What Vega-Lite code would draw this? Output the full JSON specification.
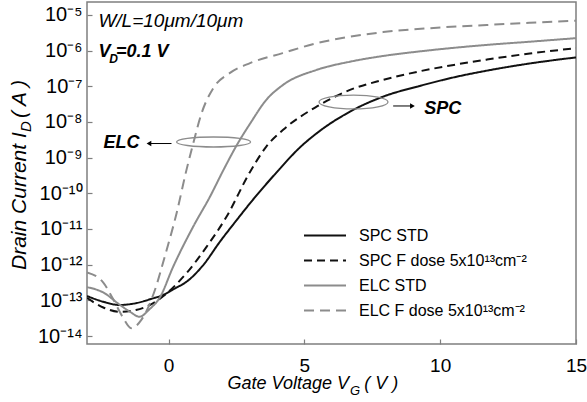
{
  "$schema": "https://vega.github.io/schema/vega-lite/v6.json",
  "width": 489,
  "height": 342,
  "autosize": {"type": "none"},
  "padding": {"left": 87, "top": 2, "right": 11, "bottom": 58},
  "background": "white",
  "config": {
    "view": {"stroke": "#7f7f7f", "strokeWidth": 1.5},
    "font": "Liberation Sans",
    "text": {"font": "Liberation Sans", "color": "#000"}
  },
  "datasets": {
    "curves": [
      {"series": "SPC STD", "x": -3, "y": 1.32e-13},
      {"series": "SPC STD", "x": -2.4, "y": 9.12e-14},
      {"series": "SPC STD", "x": -1.8, "y": 7.41e-14},
      {"series": "SPC STD", "x": -1.2, "y": 8.32e-14},
      {"series": "SPC STD", "x": -0.6, "y": 1.12e-13},
      {"series": "SPC STD", "x": -0.2, "y": 1.41e-13},
      {"series": "SPC STD", "x": 0.2, "y": 2.09e-13},
      {"series": "SPC STD", "x": 0.66, "y": 3.31e-13},
      {"series": "SPC STD", "x": 1.28, "y": 9.77e-13},
      {"series": "SPC STD", "x": 1.89, "y": 4.37e-12},
      {"series": "SPC STD", "x": 2.51, "y": 1.78e-11},
      {"series": "SPC STD", "x": 3.0, "y": 5.25e-11},
      {"series": "SPC STD", "x": 3.97, "y": 3.80e-10},
      {"series": "SPC STD", "x": 4.83, "y": 1.91e-9},
      {"series": "SPC STD", "x": 5.45, "y": 4.79e-9},
      {"series": "SPC STD", "x": 6.68, "y": 1.95e-8},
      {"series": "SPC STD", "x": 7.9, "y": 5.13e-8},
      {"series": "SPC STD", "x": 9.3, "y": 1.05e-7},
      {"series": "SPC STD", "x": 10.5, "y": 1.78e-7},
      {"series": "SPC STD", "x": 11.72, "y": 2.75e-7},
      {"series": "SPC STD", "x": 13.3, "y": 4.37e-7},
      {"series": "SPC STD", "x": 15, "y": 6.46e-7},

      {"series": "SPC F dose 5x10¹³cm⁻²", "x": -3, "y": 1.17e-13},
      {"series": "SPC F dose 5x10¹³cm⁻²", "x": -2.4, "y": 6.31e-14},
      {"series": "SPC F dose 5x10¹³cm⁻²", "x": -1.8, "y": 4.79e-14},
      {"series": "SPC F dose 5x10¹³cm⁻²", "x": -1.2, "y": 5.37e-14},
      {"series": "SPC F dose 5x10¹³cm⁻²", "x": -0.56, "y": 8.32e-14},
      {"series": "SPC F dose 5x10¹³cm⁻²", "x": -0.14, "y": 1.41e-13},
      {"series": "SPC F dose 5x10¹³cm⁻²", "x": 0.66, "y": 5.75e-13},
      {"series": "SPC F dose 5x10¹³cm⁻²", "x": 1.4, "y": 3.16e-12},
      {"series": "SPC F dose 5x10¹³cm⁻²", "x": 2.14, "y": 2.24e-11},
      {"series": "SPC F dose 5x10¹³cm⁻²", "x": 3.0, "y": 3.98e-10},
      {"series": "SPC F dose 5x10¹³cm⁻²", "x": 3.6, "y": 2.04e-9},
      {"series": "SPC F dose 5x10¹³cm⁻²", "x": 4.22, "y": 6.03e-9},
      {"series": "SPC F dose 5x10¹³cm⁻²", "x": 5.45, "y": 2.69e-8},
      {"series": "SPC F dose 5x10¹³cm⁻²", "x": 6.68, "y": 7.94e-8},
      {"series": "SPC F dose 5x10¹³cm⁻²", "x": 7.9, "y": 1.51e-7},
      {"series": "SPC F dose 5x10¹³cm⁻²", "x": 9.3, "y": 2.69e-7},
      {"series": "SPC F dose 5x10¹³cm⁻²", "x": 10.5, "y": 3.98e-7},
      {"series": "SPC F dose 5x10¹³cm⁻²", "x": 11.72, "y": 5.62e-7},
      {"series": "SPC F dose 5x10¹³cm⁻²", "x": 13.3, "y": 8.32e-7},
      {"series": "SPC F dose 5x10¹³cm⁻²", "x": 15, "y": 1.17e-6},

      {"series": "ELC STD", "x": -3, "y": 2.34e-13},
      {"series": "ELC STD", "x": -2.4, "y": 1.66e-13},
      {"series": "ELC STD", "x": -1.8, "y": 7.59e-14},
      {"series": "ELC STD", "x": -1.4, "y": 4.68e-14},
      {"series": "ELC STD", "x": -1.07, "y": 3.47e-14},
      {"series": "ELC STD", "x": -0.7, "y": 5.62e-14},
      {"series": "ELC STD", "x": -0.32, "y": 1.20e-13},
      {"series": "ELC STD", "x": 0.17, "y": 8.71e-13},
      {"series": "ELC STD", "x": 0.91, "y": 1.17e-11},
      {"series": "ELC STD", "x": 1.53, "y": 8.13e-11},
      {"series": "ELC STD", "x": 2.02, "y": 4.47e-10},
      {"series": "ELC STD", "x": 2.55, "y": 2.51e-9},
      {"series": "ELC STD", "x": 3.0, "y": 8.91e-9},
      {"series": "ELC STD", "x": 3.6, "y": 4.17e-8},
      {"series": "ELC STD", "x": 4.22, "y": 1.10e-7},
      {"series": "ELC STD", "x": 5.45, "y": 2.88e-7},
      {"series": "ELC STD", "x": 6.68, "y": 4.90e-7},
      {"series": "ELC STD", "x": 7.9, "y": 7.08e-7},
      {"series": "ELC STD", "x": 9.5, "y": 1.0e-6},
      {"series": "ELC STD", "x": 11.72, "y": 1.45e-6},
      {"series": "ELC STD", "x": 13.3, "y": 1.78e-6},
      {"series": "ELC STD", "x": 15, "y": 2.24e-6},

      {"series": "ELC F dose 5x10¹³cm⁻²", "x": -3, "y": 6.03e-13},
      {"series": "ELC F dose 5x10¹³cm⁻²", "x": -2.4, "y": 3.16e-13},
      {"series": "ELC F dose 5x10¹³cm⁻²", "x": -2.05, "y": 1.12e-13},
      {"series": "ELC F dose 5x10¹³cm⁻²", "x": -1.7, "y": 3.55e-14},
      {"series": "ELC F dose 5x10¹³cm⁻²", "x": -1.37, "y": 1.66e-14},
      {"series": "ELC F dose 5x10¹³cm⁻²", "x": -1.0, "y": 2.82e-14},
      {"series": "ELC F dose 5x10¹³cm⁻²", "x": -0.5, "y": 1.95e-13},
      {"series": "ELC F dose 5x10¹³cm⁻²", "x": -0.14, "y": 1.66e-12},
      {"series": "ELC F dose 5x10¹³cm⁻²", "x": 0.3, "y": 2.82e-11},
      {"series": "ELC F dose 5x10¹³cm⁻²", "x": 0.66, "y": 4.47e-10},
      {"series": "ELC F dose 5x10¹³cm⁻²", "x": 0.91, "y": 2.51e-9},
      {"series": "ELC F dose 5x10¹³cm⁻²", "x": 1.22, "y": 1.78e-8},
      {"series": "ELC F dose 5x10¹³cm⁻²", "x": 1.65, "y": 8.91e-8},
      {"series": "ELC F dose 5x10¹³cm⁻²", "x": 2.25, "y": 2.34e-7},
      {"series": "ELC F dose 5x10¹³cm⁻²", "x": 3.0, "y": 4.47e-7},
      {"series": "ELC F dose 5x10¹³cm⁻²", "x": 4.2, "y": 8.51e-7},
      {"series": "ELC F dose 5x10¹³cm⁻²", "x": 5.46, "y": 1.62e-6},
      {"series": "ELC F dose 5x10¹³cm⁻²", "x": 6.68, "y": 2.45e-6},
      {"series": "ELC F dose 5x10¹³cm⁻²", "x": 7.9, "y": 3.31e-6},
      {"series": "ELC F dose 5x10¹³cm⁻²", "x": 9.63, "y": 4.27e-6},
      {"series": "ELC F dose 5x10¹³cm⁻²", "x": 11.72, "y": 5.25e-6},
      {"series": "ELC F dose 5x10¹³cm⁻²", "x": 13.3, "y": 6.03e-6},
      {"series": "ELC F dose 5x10¹³cm⁻²", "x": 15, "y": 6.92e-6}
    ]
  },
  "encoding": {
    "x": {
      "field": "x", "type": "quantitative",
      "scale": {"domain": [-3, 15], "nice": false, "zero": false},
      "axis": {
        "title": null, "values": [0, 5, 10, 15], "domain": false, "grid": false,
        "tickColor": "#7f7f7f", "tickWidth": 1.2, "tickSize": -5, "labelPadding": 17,
        "labelFontSize": 19, "labelColor": "#000", "labelFont": "Liberation Sans",
        "labelFlush": false, "labelOverlap": false
      }
    },
    "y": {
      "field": "y", "type": "quantitative",
      "scale": {"type": "log", "domain": [5.97e-15, 2.31e-5], "nice": false},
      "axis": {
        "title": null,
        "values": [1e-14, 1e-13, 1e-12, 1e-11, 1e-10, 1e-9, 1e-8, 1e-7, 1e-6, 1e-5],
        "labelExpr": "'10' + {'-5':'⁻⁵','-6':'⁻⁶','-7':'⁻⁷','-8':'⁻⁸','-9':'⁻⁹','-10':'⁻¹⁰','-11':'⁻¹¹','-12':'⁻¹²','-13':'⁻¹³','-14':'⁻¹⁴'}['' + round(log(datum.value)/LN10)]",
        "domain": false, "grid": false,
        "tickColor": "#7f7f7f", "tickWidth": 1.2, "tickSize": -5, "labelPadding": 10,
        "labelFontSize": 20, "labelColor": "#000", "labelFont": "Liberation Sans",
        "labelBaseline": "middle", "labelFlush": false, "labelOverlap": false
      }
    }
  },
  "layer": [
    {
      "data": {"name": "curves"},
      "mark": {"type": "line", "interpolate": "monotone", "clip": true},
      "encoding": {
        "color": {
          "field": "series", "type": "nominal",
          "scale": {
            "domain": ["SPC STD", "SPC F dose 5x10¹³cm⁻²", "ELC STD", "ELC F dose 5x10¹³cm⁻²"],
            "range": ["#111111", "#111111", "#8c8c8c", "#8c8c8c"]
          },
          "legend": {
            "title": null, "orient": "none", "legendX": 226.5, "legendY": 222,
            "labelFontSize": 16, "labelFont": "Liberation Sans", "labelColor": "#000",
            "symbolType": "M-2,0H2", "symbolSize": 441, "labelOffset": 22.5,
            "rowPadding": 5, "labelLimit": 400
          }
        },
        "strokeDash": {
          "field": "series", "type": "nominal",
          "scale": {
            "domain": ["SPC STD", "SPC F dose 5x10¹³cm⁻²", "ELC STD", "ELC F dose 5x10¹³cm⁻²"],
            "range": [[1, 0], [8, 5], [1, 0], [10, 6]]
          },
          "legend": {
            "title": null, "orient": "none", "legendX": 226.5, "legendY": 222,
            "labelFontSize": 16, "labelFont": "Liberation Sans", "labelColor": "#000",
            "symbolType": "M-2,0H2", "symbolSize": 441, "labelOffset": 22.5,
            "rowPadding": 5, "labelLimit": 400
          }
        },
        "strokeWidth": {
          "field": "series", "type": "nominal",
          "scale": {
            "domain": ["SPC STD", "SPC F dose 5x10¹³cm⁻²", "ELC STD", "ELC F dose 5x10¹³cm⁻²"],
            "range": [2, 2, 2.8, 2.8]
          },
          "legend": {
            "title": null, "orient": "none", "legendX": 226.5, "legendY": 222,
            "labelFontSize": 16, "labelFont": "Liberation Sans", "labelColor": "#000",
            "symbolType": "M-2,0H2", "symbolSize": 441, "labelOffset": 22.5,
            "rowPadding": 5, "labelLimit": 400
          }
        }
      }
    },
    {
      "data": {"values": [{"x": 1.66, "y": 2.75e-9}]},
      "mark": {"type": "point", "shape": "M-1,0A1,0.135,0,1,1,1,0A1,0.135,0,1,1,-1,0Z", "size": 5476, "filled": false, "stroke": "#8c8c8c", "strokeWidth": 1.3, "opacity": 1}
    },
    {
      "data": {"values": [{"x": 6.81, "y": 3.64e-8}]},
      "mark": {"type": "point", "shape": "M-1,0A1,0.2,0,1,1,1,0A1,0.2,0,1,1,-1,0Z", "size": 4761, "filled": false, "stroke": "#8c8c8c", "strokeWidth": 1.3, "opacity": 1}
    },
    {
      "data": {"values": [{"x": 0.11, "x2": -0.66, "y": 2.49e-9}]},
      "mark": {"type": "rule", "color": "#000", "strokeWidth": 1},
      "encoding": {"x2": {"field": "x2"}}
    },
    {
      "data": {"values": [{"x": 8.27, "x2": 8.93, "y": 2.81e-8}]},
      "mark": {"type": "rule", "color": "#000", "strokeWidth": 1},
      "encoding": {"x2": {"field": "x2"}}
    },
    {
      "data": {"values": [{"x": -0.72, "y": 2.49e-9}]},
      "mark": {"type": "point", "shape": "triangle-left", "size": 30, "filled": true, "color": "#000", "opacity": 1}
    },
    {
      "data": {"values": [{"x": 8.98, "y": 2.81e-8}]},
      "mark": {"type": "point", "shape": "triangle-right", "size": 30, "filled": true, "color": "#000", "opacity": 1}
    },
    {
      "data": {"values": [{"x": -2.58, "y": 4.61e-6, "label": "W/L=10μm/10μm"}]},
      "mark": {"type": "text", "align": "left", "baseline": "alphabetic", "fontStyle": "italic", "fontSize": 19},
      "encoding": {"text": {"field": "label"}}
    },
    {
      "data": {"values": [{"x": -2.58, "y": 6.65e-7, "label": "V"}]},
      "mark": {"type": "text", "align": "left", "baseline": "alphabetic", "fontStyle": "italic", "fontWeight": "bold", "fontSize": 18},
      "encoding": {"text": {"field": "label"}}
    },
    {
      "data": {"values": [{"x": -2.18, "y": 4.51e-7, "label": "D"}]},
      "mark": {"type": "text", "align": "left", "baseline": "alphabetic", "fontStyle": "italic", "fontWeight": "bold", "fontSize": 12},
      "encoding": {"text": {"field": "label"}}
    },
    {
      "data": {"values": [{"x": -1.93, "y": 6.65e-7, "label": "=0.1 V"}]},
      "mark": {"type": "text", "align": "left", "baseline": "alphabetic", "fontStyle": "italic", "fontWeight": "bold", "fontSize": 18},
      "encoding": {"text": {"field": "label"}}
    },
    {
      "data": {"values": [{"x": -1.07, "y": 1.87e-9, "label": "ELC"}]},
      "mark": {"type": "text", "align": "right", "baseline": "alphabetic", "fontStyle": "italic", "fontWeight": "bold", "fontSize": 18},
      "encoding": {"text": {"field": "label"}}
    },
    {
      "data": {"values": [{"x": 9.41, "y": 1.68e-8, "label": "SPC"}]},
      "mark": {"type": "text", "align": "left", "baseline": "alphabetic", "fontStyle": "italic", "fontWeight": "bold", "fontSize": 18},
      "encoding": {"text": {"field": "label"}}
    },
    {
      "data": {"values": [{"x": 6.642, "y": 3.2e-16, "label": "Gate Voltage V"}]},
      "mark": {"type": "text", "align": "right", "baseline": "alphabetic", "fontStyle": "italic", "fontSize": 18},
      "encoding": {"text": {"field": "label"}}
    },
    {
      "data": {"values": [{"x": 6.68, "y": 2.2e-16, "label": "G"}]},
      "mark": {"type": "text", "align": "left", "baseline": "alphabetic", "fontStyle": "italic", "fontSize": 13},
      "encoding": {"text": {"field": "label"}}
    },
    {
      "data": {"values": [{"x": 7.21, "y": 3.2e-16, "label": "( V )"}]},
      "mark": {"type": "text", "align": "left", "baseline": "alphabetic", "fontStyle": "italic", "fontSize": 18},
      "encoding": {"text": {"field": "label"}}
    },
    {
      "data": {"values": [{"x": -5.24, "y": 7.10e-13, "label": "Drain Current I"}]},
      "mark": {"type": "text", "align": "left", "baseline": "alphabetic", "angle": 270, "fontStyle": "italic", "fontSize": 21},
      "encoding": {"text": {"field": "label"}}
    },
    {
      "data": {"values": [{"x": -5.05, "y": 5.25e-9, "label": "D"}]},
      "mark": {"type": "text", "align": "left", "baseline": "alphabetic", "angle": 270, "fontStyle": "italic", "fontSize": 15},
      "encoding": {"text": {"field": "label"}}
    },
    {
      "data": {"values": [{"x": -5.24, "y": 1.29e-8, "label": "( A )"}]},
      "mark": {"type": "text", "align": "left", "baseline": "alphabetic", "angle": 270, "fontStyle": "italic", "fontSize": 21},
      "encoding": {"text": {"field": "label"}}
    }
  ]
}
